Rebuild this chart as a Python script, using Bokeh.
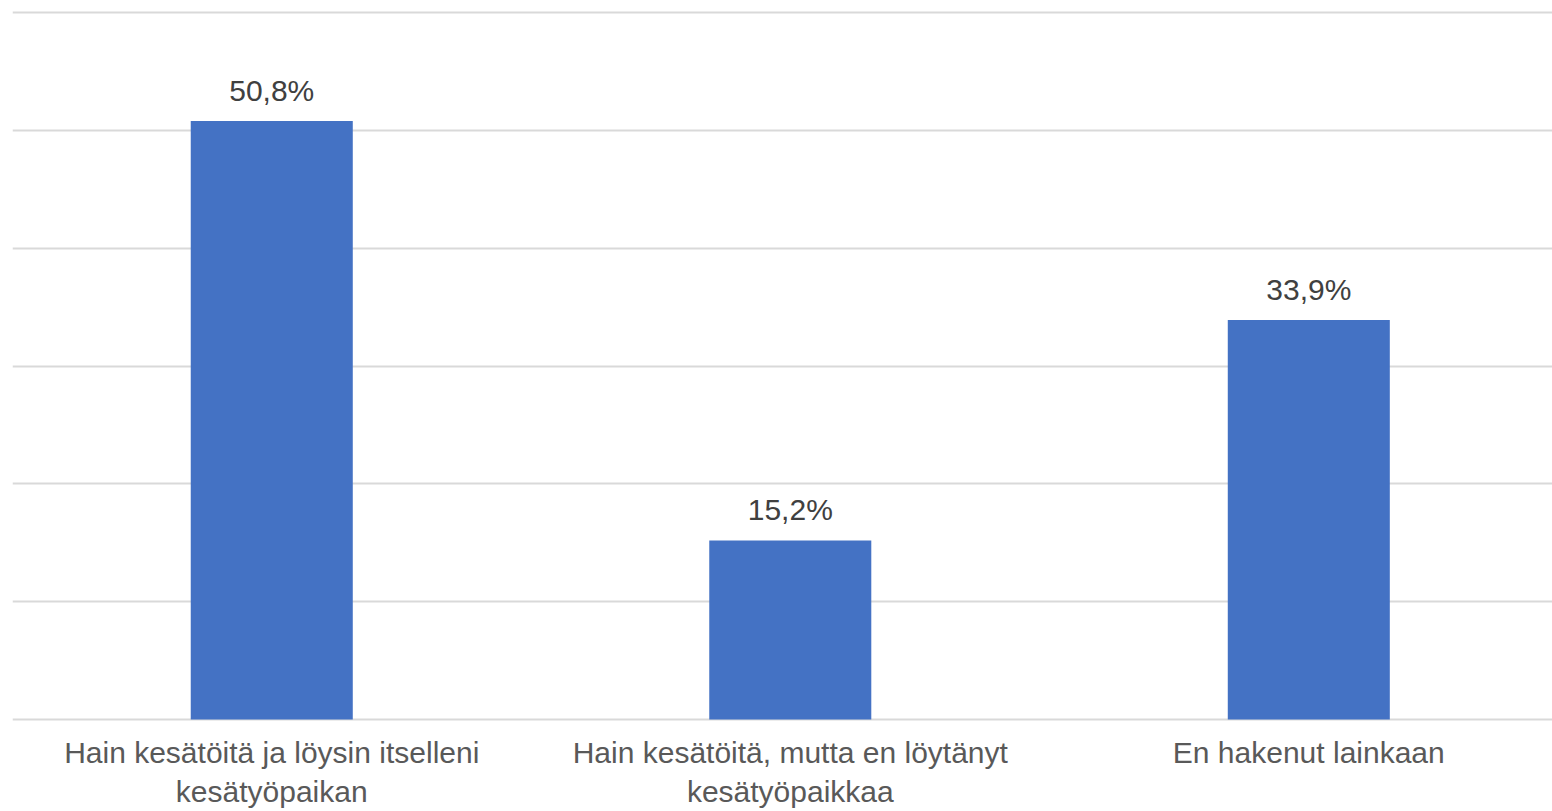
from bokeh.plotting import figure
from bokeh.models import ColumnDataSource, Range1d, FixedTicker
from bokeh.core.properties import value
from bokeh.embed import file_html
from bokeh.resources import INLINE

categories = ["Hain kesätöitä ja löysin itselleni\nkesätyöpaikan",
              "Hain kesätöitä, mutta en löytänyt\nkesätyöpaikkaa",
              "En hakenut lainkaan"]
values = [50.8, 15.2, 33.9]
gridlines = [0, 10, 20, 30, 40, 50, 60]

xs = list(range(len(categories)))
labels = [("%.1f" % v).replace(".", ",") + "%" for v in values]
src = ColumnDataSource(dict(x=xs, top=values, label=labels))

p = figure(width=1552, height=811, output_backend="svg", toolbar_location=None,
           x_range=Range1d(-0.5, 2.47), y_range=Range1d(-0.17, 60.34),
           min_border_left=12, min_border_right=0, min_border_top=8, min_border_bottom=89)
p.outline_line_color = None
p.background_fill_color = "white"
p.border_fill_color = "white"

p.vbar(x="x", top="top", bottom=0, width=0.3125, source=src,
       fill_color="#4472C4", line_color=None)
p.text(x="x", y="top", text="label", source=src, text_align="center",
       text_baseline="bottom", y_offset=-14, text_font=value("Liberation Sans"),
       text_font_size="30px", text_color="#404040")

p.yaxis.visible = False
p.ygrid.ticker = FixedTicker(ticks=gridlines)
p.ygrid.grid_line_color = "#d9d9d9"
p.ygrid.grid_line_width = 2
p.xgrid.grid_line_color = None

p.xaxis.ticker = FixedTicker(ticks=xs)
p.xaxis.major_label_overrides = {i: c for i, c in zip(xs, categories)}
p.xaxis.axis_line_color = None
p.xaxis.major_tick_line_color = None
p.xaxis.minor_tick_line_color = None
p.xaxis.major_tick_in = 0
p.xaxis.major_tick_out = 0
p.xaxis.major_label_standoff = 14
p.xaxis.major_label_text_font = "Liberation Sans"
p.xaxis.major_label_text_font_size = "30px"
p.xaxis.major_label_text_color = "#595959"

open("out.html", "w").write(file_html(p, INLINE))
